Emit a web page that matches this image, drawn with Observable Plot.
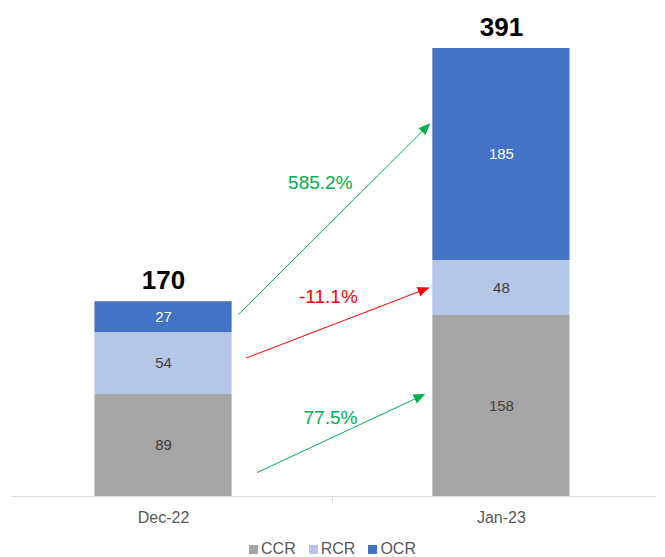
<!DOCTYPE html>
<html>
<head>
<meta charset="utf-8">
<script src="https://cdn.jsdelivr.net/npm/d3@7"></script>
<script src="https://cdn.jsdelivr.net/npm/@observablehq/plot@0.6"></script>
<style>
  html, body { margin: 0; padding: 0; background: #fff; }
  body { width: 665px; font-family: "Liberation Sans", Arial, sans-serif; overflow: hidden; }
  #legend { display: flex; justify-content: center; margin-top: 10px; font-size: 16px; color: #595959; line-height: normal; }
  #legend .item { display: flex; align-items: baseline; margin: 0 6.5px; }
  #legend .sw { display: inline-block; width: 9px; height: 9px; margin-right: 3px; }
</style>
</head>
<body>
<div id="chart"></div>
<div id="legend"></div>
<script>
// ---- data ----
const categories = ["Dec-22", "Jan-23"];
const series = ["CCR", "RCR", "OCR"];
const ccr = [89, 158];
const rcr = [54, 48];
const ocr = [27, 185];
const seriesColors = ["#a5a5a5", "#b4c7e7", "#4472c4"];

// change-arrow annotation anchors (x in category-index units, y in value units), per series
const arrowX1 = [0.278, 0.246, 0.222];
const arrowY1 = [21, 121, 159];
const arrowX2 = [0.772, 0.784, 0.787];
const arrowY2 = [89, 182, 325];
const labelX = [0.494, 0.488, 0.464];
const labelY = [69, 174, 274];

// ---- derived tables ----
const values = [ccr, rcr, ocr];
const rows = [];
categories.forEach((c, i) => {
  let acc = 0;
  series.forEach((s, j) => {
    const v = values[j][i];
    rows.push({i, category: c, series: s, value: v, y1: acc, y2: acc + v});
    acc += v;
  });
});
const totals = categories.map((c, i) => ({i, total: d3.sum(values, v => v[i])}));
const changes = series.map((s, j) => ({
  series: s,
  change: values[j][1] / values[j][0] - 1,
  x1: arrowX1[j], y1: arrowY1[j], x2: arrowX2[j], y2: arrowY2[j],
  lx: labelX[j], ly: labelY[j]
}));
const fmtChange = d => (d.change * 100).toFixed(1) + "%";
const boundaries = d3.pairs(categories.map((c, i) => i)).map(([a, b]) => (a + b) / 2);

const half = 0.203;
const GREEN = "#00b050", RED = "#ff0000";
const ups = changes.filter(d => d.change >= 0);
const downs = changes.filter(d => d.change < 0);

const chart = Plot.plot({
  width: 665,
  height: 530,
  marginTop: 48,
  marginBottom: 34,
  marginLeft: 12,
  marginRight: 9,
  style: {fontFamily: "'Liberation Sans', Arial, sans-serif", fontSize: "16px", background: "white"},
  x: {domain: [-0.447, 1.459], axis: null},
  y: {domain: [0, 391], axis: null},
  color: {domain: series, range: seriesColors},
  marks: [
    Plot.rect(rows, {x1: d => d.i - half, x2: d => d.i + half, y1: "y1", y2: "y2", fill: "series"}),
    Plot.ruleY([0], {stroke: "#d9d9d9", strokeWidth: 1}),
    Plot.axisX({ticks: boundaries, tickSize: 6, tickFormat: () => "", stroke: "#d9d9d9"}),
    Plot.axisX({ticks: categories.map((c, i) => i), tickFormat: i => categories[i], tickSize: 0, tickPadding: 15, fontSize: 16, fill: "#595959"}),
    Plot.text(rows.filter(d => d.series === "OCR"), {x: "i", y: d => (d.y1 + d.y2) / 2, text: "value", fill: "white", fontSize: 15}),
    Plot.text(rows.filter(d => d.series !== "OCR"), {x: "i", y: d => (d.y1 + d.y2) / 2, text: "value", fill: "#404040", fontSize: 15}),
    Plot.text(totals, {x: "i", y: "total", text: "total", dy: -21, fontSize: 26, fontWeight: "bold", fill: "black"}),
    Plot.arrow(ups, {x1: "x1", y1: "y1", x2: "x2", y2: "y2", stroke: GREEN, fill: GREEN, strokeWidth: 1, headLength: 17, headAngle: 45}),
    Plot.arrow(downs, {x1: "x1", y1: "y1", x2: "x2", y2: "y2", stroke: RED, fill: RED, strokeWidth: 1, headLength: 17, headAngle: 45}),
    Plot.text(ups, {x: "lx", y: "ly", text: fmtChange, fill: GREEN, fontSize: 19}),
    Plot.text(downs, {x: "lx", y: "ly", text: fmtChange, fill: RED, fontSize: 19})
  ]
});
document.getElementById("chart").appendChild(chart);

const legend = document.getElementById("legend");
series.forEach((s, j) => {
  const item = document.createElement("span");
  item.className = "item";
  const sw = document.createElement("span");
  sw.className = "sw";
  sw.style.background = seriesColors[j];
  item.appendChild(sw);
  item.appendChild(document.createTextNode(s));
  legend.appendChild(item);
});
</script>
</body>
</html>
